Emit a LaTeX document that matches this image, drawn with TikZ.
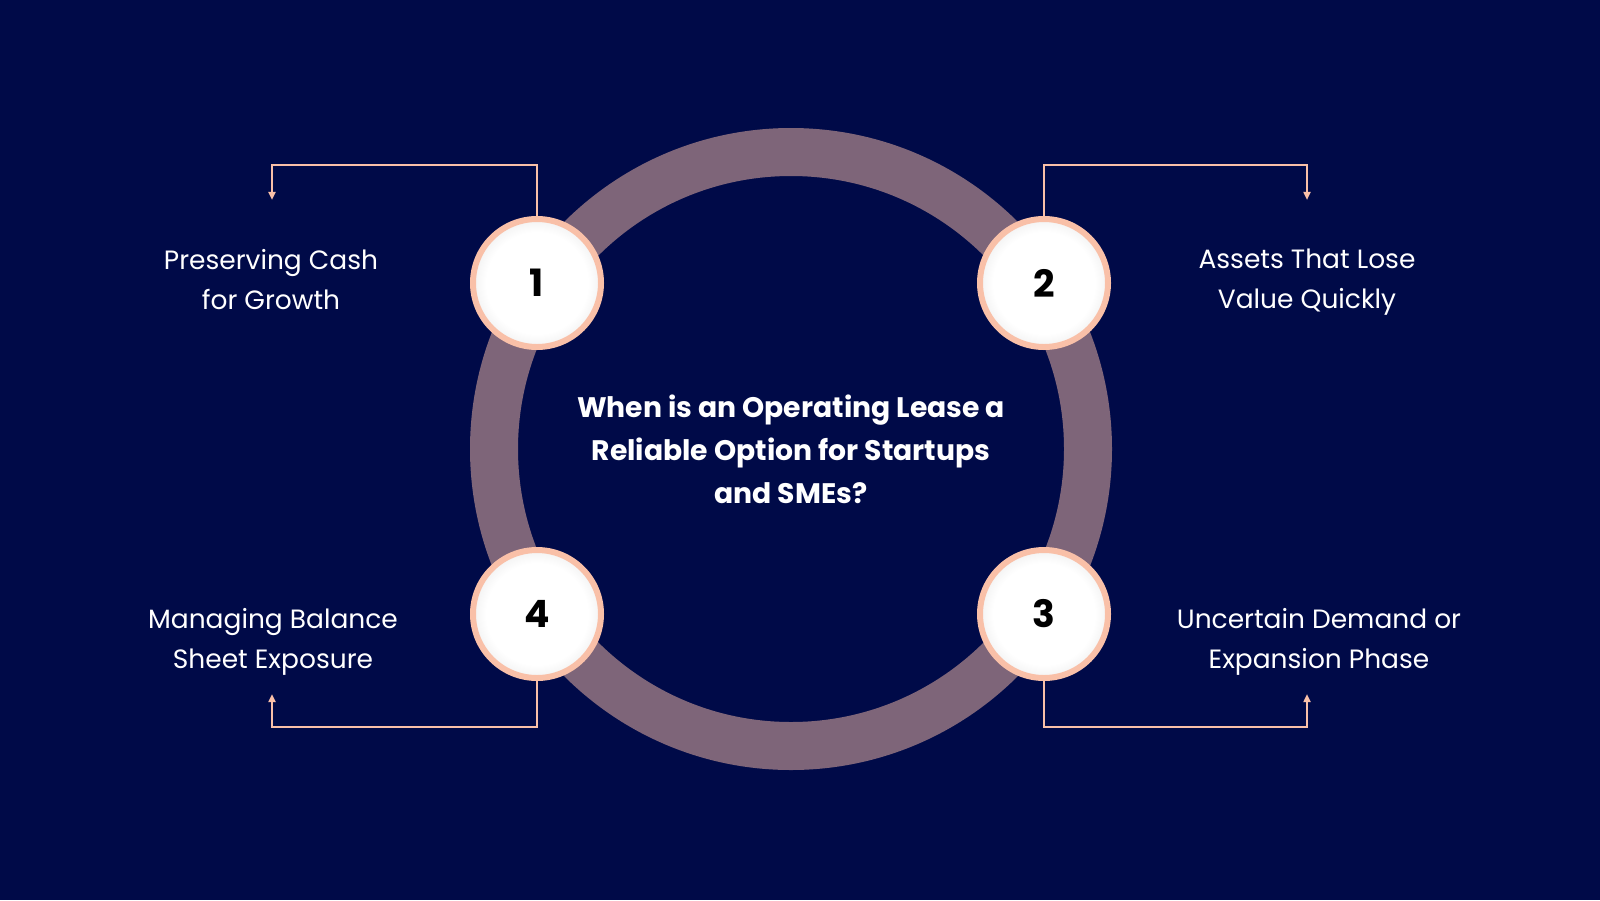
\documentclass[tikz,border=0pt]{standalone}
\usepackage{fontspec}
\setmainfont{Poppins}
\usetikzlibrary{arrows.meta}
\definecolor{bg}{HTML}{000A48}
\definecolor{ring}{HTML}{7E6579}
\definecolor{peach}{HTML}{F9C0A8}
\pgfdeclareradialshading{disc}{\pgfpoint{0cm}{0cm}}{color(0cm)=(white);color(0.7cm)=(white);color(0.92cm)=(white!88!gray);color(1cm)=(white!75!gray)}
\tikzset{
  num/.style={circle,minimum size=128*0.85pt,draw=peach,line width=6*0.85pt,shading=disc,font=\bfseries\fontsize{32}{32}\selectfont,text=black},
  lbl/.style={text=white,align=center,font=\fontsize{22.5}{34}\selectfont},
  conn/.style={draw=peach,line width=1.8pt,-{Triangle[length=7pt,width=6pt]}}
}
\begin{document}
\begin{tikzpicture}[x=0.85pt,y=-0.85pt]
\fill[bg] (0,0) rectangle (1600,900);
\useasboundingbox (0,0) rectangle (1600,900);
\coordinate (c) at (791,449);
\draw[ring,line width=48*0.85pt] (c) circle[radius=297];
\node[text=white,align=center,font=\bfseries\fontsize{24}{36.5}\selectfont] (t) at (c) {When is an Operating Lease a\\Reliable Option for Startups\\and SMEs?};
\node[num] (n1) at (537,283) {1};
\node[num] (n2) at (1044,283) {2};
\node[num] (n3) at (1044,614) {3};
\node[num] (n4) at (537,614) {4};
\node[lbl] (l1) at (271,280) {Preserving Cash\\for Growth};
\node[lbl] (l2) at (1307,282) {Assets That Lose\\Value Quickly};
\node[lbl] (l3) at (1319,642) {Uncertain Demand or\\Expansion Phase};
\node[lbl] (l4) at (273,642) {Managing Balance\\Sheet Exposure};
\coordinate (a1) at (272,200);
\coordinate (a2) at (1307,200);
\coordinate (a3) at (1307,694);
\coordinate (a4) at (272,694);
\draw[conn] (n1.north) |- (272,165) -- (a1);
\draw[conn] (n2.north) |- (1307,165) -- (a2);
\draw[conn] (n3.south) |- (1307,727) -- (a3);
\draw[conn] (n4.south) |- (272,727) -- (a4);
\end{tikzpicture}
\end{document}
